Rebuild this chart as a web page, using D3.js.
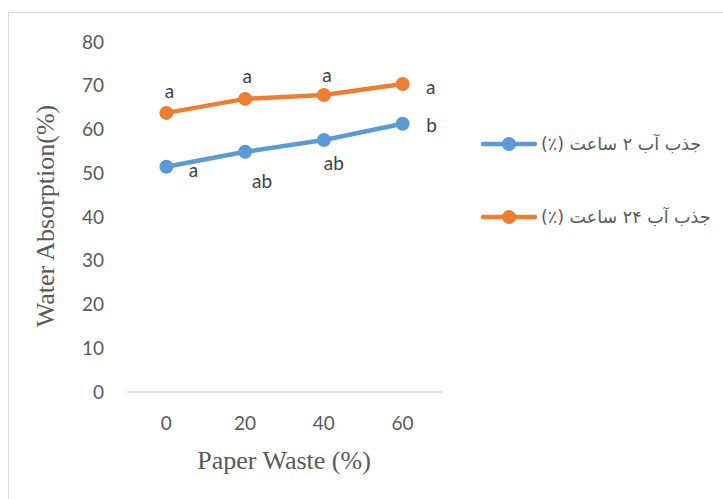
<!DOCTYPE html>
<html><head><meta charset="utf-8">
<script src="https://cdn.jsdelivr.net/npm/d3@7"></script>
<style>body{margin:0;background:#fff}svg{display:block}</style>
</head><body><div id="chart"></div>
<script>
const categories = ["0","20","40","60"];
const seriesNames = ["جذب آب ۲ ساعت (٪)", "جذب آب ۲۴ ساعت (٪)"];
const values2h = [51.5, 54.9, 57.6, 61.3];
const values24h = [63.8, 67.0, 67.9, 70.4];
const labels2h = ["a","ab","ab","b"];
const labels24h = ["a","a","a","a"];
const yTicks = [0,10,20,30,40,50,60,70,80];
const colors = ["#5b9bd5", "#ed7d31"];

const W = 723, H = 499;
const svg = d3.select("#chart").append("svg").attr("width", W).attr("height", H);
svg.append("rect").attr("x",8.5).attr("y",12.5).attr("width",W).attr("height",H)
  .attr("fill","#fff").attr("stroke","#d9d9d9");

const x = d3.scaleBand().domain(categories).range([127, 442]);
const y = d3.scaleLinear().domain([0, 80]).range([392, 42]);

svg.append("line").attr("x1",127).attr("x2",442).attr("y1",y(0)).attr("y2",y(0))
  .attr("stroke","#d9d9d9").attr("stroke-width",1.5);

const numFont = "Lato, 'Open Sans', sans-serif";
const numSize = 19;
svg.append("g").selectAll("text").data(yTicks).join("text")
  .attr("x",104).attr("y",d=>y(d)).attr("dy","0.35em").attr("text-anchor","end")
  .attr("font-family",numFont).attr("font-size",numSize).attr("fill","#595959").text(d=>d);

svg.append("g").selectAll("text").data(categories).join("text")
  .attr("x",d=>x(d)+x.bandwidth()/2).attr("y",423).attr("dy","0.35em").attr("text-anchor","middle")
  .attr("font-family",numFont).attr("font-size",numSize).attr("fill","#595959").text(d=>d);

svg.append("text").attr("x",284).attr("y",469).attr("text-anchor","middle")
  .attr("font-family","'Liberation Serif', serif").attr("font-size",26).attr("fill","#595959")
  .text("Paper Waste (%)");
svg.append("text").attr("transform","translate(54,216) rotate(-90)").attr("text-anchor","middle")
  .attr("font-family","'Liberation Serif', serif").attr("font-size",26).attr("fill","#595959")
  .text("Water Absorption(%)");

const cx = d => x(d)+x.bandwidth()/2;
const line = d3.line().x((d,i)=>cx(categories[i])).y(d=>y(d));
[values2h, values24h].forEach((vals, s) => {
  svg.append("path").datum(vals).attr("d", line).attr("fill","none")
    .attr("stroke", colors[s]).attr("stroke-width", 4.5).attr("stroke-linecap","round");
  svg.append("g").selectAll("circle").data(vals).join("circle")
    .attr("cx",(d,i)=>cx(categories[i])).attr("cy",d=>y(d)).attr("r",7).attr("fill",colors[s]);
});

const off2h = [[27,4],[17,30],[10,23],[29,2]];
const off24h = [[3,-22],[2,-23],[3,-20],[28,3]];
const drawLabels = (vals, labs, offs) => {
  svg.append("g").selectAll("text").data(vals).join("text")
    .attr("x",(d,i)=>cx(categories[i])+offs[i][0]).attr("y",(d,i)=>y(d)+offs[i][1])
    .attr("dy","0.35em").attr("text-anchor","middle")
    .attr("font-family",numFont).attr("font-size",numSize).attr("fill","#404040")
    .text((d,i)=>labs[i]);
};
drawLabels(values2h, labels2h, off2h);
drawLabels(values24h, labels24h, off24h);

const legY = [144, 217];
seriesNames.forEach((n, s) => {
  const g = svg.append("g");
  g.append("line").attr("x1",483).attr("x2",535).attr("y1",legY[s]).attr("y2",legY[s])
    .attr("stroke",colors[s]).attr("stroke-width",4.5).attr("stroke-linecap","round");
  g.append("circle").attr("cx",509).attr("cy",legY[s]).attr("r",7).attr("fill",colors[s]);
  g.append("text").attr("x",541).attr("y",legY[s]).attr("dy","0.35em")
    .attr("font-family","'DejaVu Sans', sans-serif").attr("font-size",17.5).attr("fill","#595959")
    .attr("direction","rtl").attr("text-anchor","end").text(n);
});
</script></body></html>
